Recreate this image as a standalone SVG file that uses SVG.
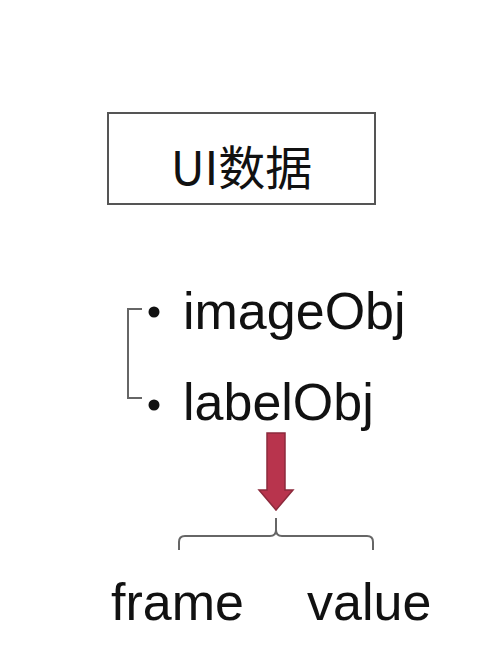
<svg xmlns="http://www.w3.org/2000/svg" width="484" height="658" viewBox="0 0 484 658">
<style>
.lbl{font-family:"Liberation Sans","Noto Sans",Arial,sans-serif;font-size:52px;fill:#111}
.cjk{font-family:"Noto Sans CJK SC","Liberation Sans",sans-serif;font-size:47px;fill:#111}
.ln{fill:none;stroke:#666;stroke-width:2}
</style>
<rect width="484" height="658" fill="#fff"/>
<g id="ui-data">
<rect x="108" y="113" width="267" height="91" fill="#fff" stroke="#555" stroke-width="2"/>
<text class="cjk" x="241.5" y="185" text-anchor="middle">UI数据</text>
</g>
<g id="connectors">
<path class="ln" d="M142,309 H128 V398 H142"/>
<path d="M267,433 H285 V490 H293 L276,510 L259,490 H267 Z" fill="#b8344d" stroke="#8c2a3c" stroke-width="1.5"/>
<path class="ln" d="M179,550 V542 Q179,536 185,536 H270 Q276,536 276,530 V518 M276,530 Q276,536 282,536 H367 Q373,536 373,542 V550"/>
</g>
<g id="imageObj">
<circle cx="154" cy="312" r="5.5" fill="#111"/>
<text class="lbl" x="183" y="329">imageObj</text>
</g>
<g id="labelObj">
<circle cx="154" cy="405" r="5.5" fill="#111"/>
<text class="lbl" x="183" y="420">labelObj</text>
</g>
<g id="frame">
<text class="lbl" x="111" y="620">frame</text>
</g>
<g id="value">
<text class="lbl" x="307" y="620">value</text>
</g>
</svg>
